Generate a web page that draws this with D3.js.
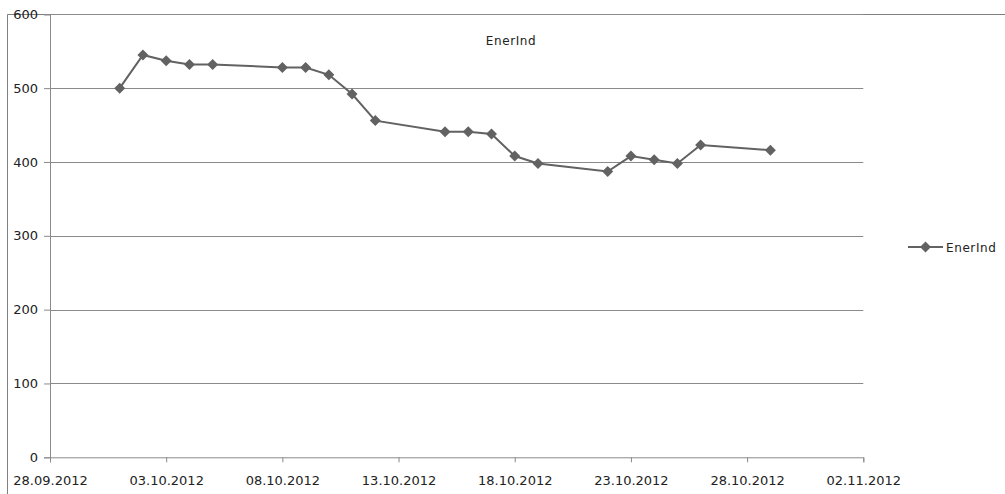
<!DOCTYPE html>
<html>
<head>
<meta charset="utf-8">
<script src="https://cdn.jsdelivr.net/npm/d3@7"></script>
<style>
  html, body { margin: 0; padding: 0; background: #fff; }
  svg { display: block; }
  text { font-family: "DejaVu Sans", sans-serif; fill: #222; }
</style>
</head>
<body>
<svg id="chart" width="1005" height="494"></svg>
<script>
// ---- data ----
const seriesName = "EnerInd";
const dates = ["01.10.2012","02.10.2012","03.10.2012","04.10.2012","05.10.2012",
               "08.10.2012","09.10.2012","10.10.2012","11.10.2012","12.10.2012",
               "15.10.2012","16.10.2012","17.10.2012","18.10.2012","19.10.2012",
               "22.10.2012","23.10.2012","24.10.2012","25.10.2012","26.10.2012",
               "29.10.2012"];
const values = [500, 545, 537, 532, 532,
                528, 528, 518, 492, 456,
                441, 441, 438, 408, 398,
                387, 408, 403, 398, 423,
                416];
const xTickLabels = ["28.09.2012","03.10.2012","08.10.2012","13.10.2012","18.10.2012",
                     "23.10.2012","28.10.2012","02.11.2012"];
const yTicks = [0, 100, 200, 300, 400, 500, 600];

// ---- drawing ----
(function () {
const parse = d3.utcParse("%d.%m.%Y");
const fmt = d3.utcFormat("%d.%m.%Y");
const data = dates.map((d, i) => ({date: parse(d), value: values[i]}));
const xTicks = xTickLabels.map(parse);

const svg = d3.select("#chart");
const mLeft = 50, mRight = 863.3, mTop = 14.3, mBottom = 457.3;

const x = d3.scaleUtc().domain([xTicks[0], xTicks[xTicks.length - 1]]).range([mLeft, mRight]);
const y = d3.scaleLinear().domain([0, 600]).range([mBottom, mTop]);

const gridColor = "#8a8a8a";

// outer chart frame (top/left edges visible)
svg.append("line").attr("x1", 7.5).attr("x2", 1005).attr("y1", 14.5).attr("y2", 14.5)
  .attr("stroke", "#7f7f7f").attr("stroke-width", 1);
svg.append("line").attr("x1", 7.5).attr("x2", 7.5).attr("y1", 14.5).attr("y2", 494)
  .attr("stroke", "#7f7f7f").attr("stroke-width", 1);

// gridlines
svg.append("g").selectAll("line").data(yTicks.filter(t => t > 0)).join("line")
  .attr("x1", mLeft).attr("x2", mRight)
  .attr("y1", d => Math.round(y(d)) + 0.5).attr("y2", d => Math.round(y(d)) + 0.5)
  .attr("stroke", gridColor).attr("stroke-width", 1);

// y axis
const yAxis = d3.axisLeft(y).tickValues(yTicks).tickSize(6).tickPadding(6).tickFormat(d3.format("d"));
const gy = svg.append("g").attr("transform", `translate(${mLeft},0)`).call(yAxis);
gy.select(".domain").attr("stroke", gridColor);
gy.selectAll(".tick line").attr("stroke", gridColor);
gy.selectAll(".tick text").style("font-family", "DejaVu Sans, sans-serif").style("font-size", "13px").attr("fill", "#222");

// x axis
const xAxis = d3.axisBottom(x).tickValues(xTicks).tickSize(5).tickPadding(13).tickFormat(fmt);
const gx = svg.append("g").attr("transform", `translate(0,${mBottom})`).call(xAxis);
gx.select(".domain").attr("stroke", gridColor);
gx.selectAll(".tick line").attr("stroke", gridColor);
gx.selectAll(".tick text").style("font-family", "DejaVu Sans, sans-serif").style("font-size", "13px").attr("fill", "#222");

// series line
const lineColor = "#626262";
svg.append("path").datum(data)
  .attr("fill", "none").attr("stroke", lineColor).attr("stroke-width", 2)
  .attr("d", d3.line().x(d => x(d.date)).y(d => y(d.value)));

// diamond markers
function diamondPath(s) { return `M0,${-s}L${s},0L0,${s}L${-s},0Z`; }
svg.append("g").selectAll("path").data(data).join("path")
  .attr("transform", d => `translate(${x(d.date)},${y(d.value)})`)
  .attr("d", diamondPath(5.5))
  .attr("fill", lineColor);

// title
svg.append("text").attr("x", 511).attr("y", 45).attr("text-anchor", "middle")
  .style("font-size", "12px").style("letter-spacing", "0.6px").text(seriesName);

// legend
const lg = svg.append("g");
lg.append("line").attr("x1", 908).attr("x2", 943).attr("y1", 247).attr("y2", 247)
  .attr("stroke", lineColor).attr("stroke-width", 2);
lg.append("path").attr("transform", "translate(925.5,247)").attr("d", diamondPath(5.5)).attr("fill", lineColor);
lg.append("text").attr("x", 946).attr("y", 251.5)
  .style("font-size", "12px").style("letter-spacing", "0.6px").text(seriesName);
})();
</script>
</body>
</html>
